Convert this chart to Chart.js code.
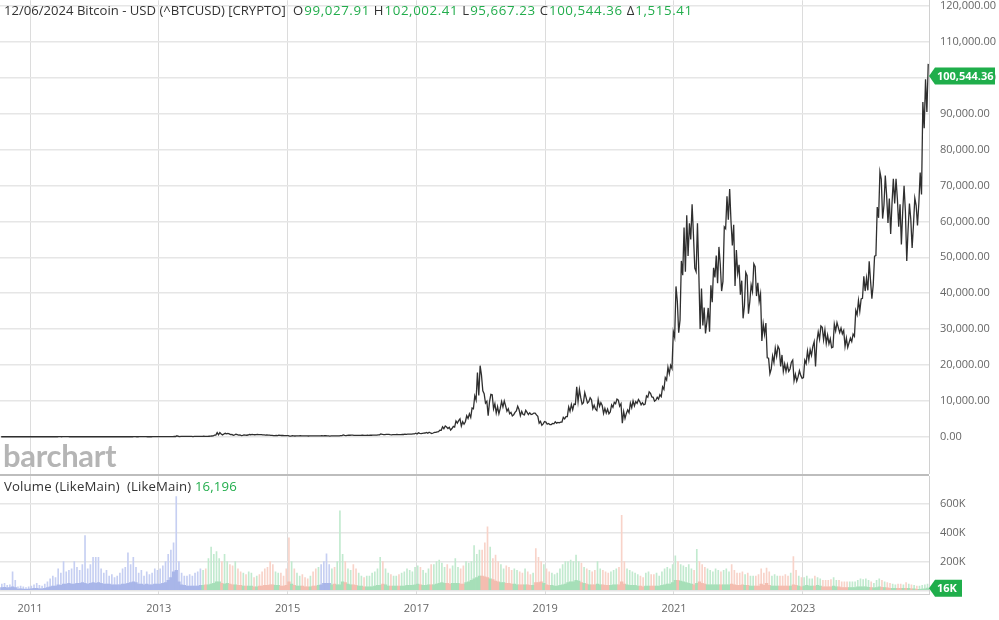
<!DOCTYPE html>
<html><head><meta charset="utf-8">
<script src="https://cdn.jsdelivr.net/npm/chart.js@4.4.1/dist/chart.umd.min.js"></script>
<style>
html,body{margin:0;padding:0;background:#fff;width:999px;height:620px;overflow:hidden;font-family:"Open Sans",sans-serif;}
#pwrap{position:absolute;left:0;top:0;width:999px;height:474px;}
#vwrap{position:absolute;left:0;top:476px;width:999px;height:144px;}
#sep{position:absolute;left:0;top:474px;width:929px;height:2px;background:#bdbdbd;}
#title{position:absolute;left:4px;top:1px;font-size:13.1px;color:#333;white-space:pre;}
#title .k{margin-left:4px;}
#title .g{margin-left:1px;font-size:13.3px;letter-spacing:0.6px;}
#vtitle{position:absolute;left:4px;top:477px;font-size:13.2px;letter-spacing:0.15px;color:#333;white-space:pre;}
.g{color:#22ad4c}
#wm{position:absolute;left:3px;top:436px;font-family:Lato,sans-serif;font-weight:700;font-size:31px;color:#b5b5b5;letter-spacing:-0.3px;}
</style></head><body>
<div id="pwrap"><canvas id="pc"></canvas></div>
<div id="sep"></div>
<div id="vwrap"><canvas id="vc"></canvas></div>
<div id="wm">barchart</div>
<div id="title"></div>
<div id="vtitle"></div>
<script>
// ---- DATA ----
const symbolText = "12/06/2024 Bitcoin - USD (^BTCUSD) [CRYPTO]";
const lastOpen = 99027.91, lastHigh = 102002.41, lastLow = 95667.23, lastClose = 100544.36, lastChange = 1515.41;
const lastVolume = 16196;
const yearTicks = [2011, 2013, 2015, 2017, 2019, 2021, 2023];
const priceTicks = [0, 10000, 20000, 30000, 40000, 50000, 60000, 70000, 80000, 90000, 100000, 110000, 120000];
const volumeTicks = [0, 200, 400, 600]; // thousands
const firstSlot = 2010.5417; // half-month slots, starting 2nd half of July 2010

// half-month low / high of BTC-USD
const priceLow = [
 0.05,0.06,0.06,0.06,0.06,0.06,0.1,0.19,0.19,0.2,0.24,
 0.3,0.4,0.9,0.8,0.8,0.75,0.68,1.1,3,6,9,10,13,13,6,7,5,4.6,4,2.2,2.6,2,2.8,3.4,
 5,5.6,5,4.3,4.8,4.7,4.7,4.8,4.9,5,5.3,6,6.6,8.3,10,7.5,10,11.8,11.8,10.5,10.8,11.3,12.6,13.2,
 13.4,15,20,25,33,47,70,63,107,119,99,94,66,86,96,106,120,120,116,168,230,445,540,520,
 770,800,600,420,550,450,340,415,430,490,560,570,615,580,505,450,440,380,300,340,320,350,340,310,
 170,200,210,230,260,240,235,215,230,230,222,240,255,270,260,200,225,225,240,260,310,310,390,420,
 410,370,375,400,410,410,415,425,440,440,535,580,620,650,530,570,600,590,600,630,690,730,750,780,
 780,880,960,1050,980,900,1050,1200,1400,1800,2250,2300,1850,2300,2700,3800,3000,3500,4200,5100,5400,7800,10200,11500,
 12800,9400,5900,9700,7800,6600,6400,7900,8300,7100,6400,5800,6100,7200,5900,6200,6100,6200,6200,6300,6100,3800,3200,3600,
 3500,3400,3400,3600,3800,3900,4100,5000,5600,7100,7500,9000,9800,9100,9500,9400,9800,7800,7700,7300,8500,6500,6600,6400,
 6900,8200,9200,8500,3800,5100,6500,6700,8100,8600,9300,8900,8900,9100,11000,11100,9900,10200,10500,11200,13200,15800,17600,19000,
 27700,29000,32500,45000,46000,50400,55000,47000,46000,30000,31000,28800,32000,29300,37500,44400,42800,40600,43300,58000,60500,53300,42000,45500,
 39600,33000,36500,34300,37600,40500,39200,37700,26700,28600,22000,17600,18900,20700,22400,19600,18200,18200,18200,18900,15600,15500,16700,16300,
 16500,20400,21400,22700,19600,26600,27200,27000,26000,25900,24800,25000,29500,29000,28700,25200,24900,26200,26500,28000,34000,35000,38600,40600,
 40800,38500,42300,50500,61000,60800,64500,59600,56500,65000,65000,58500,53600,63000,49000,57800,52600,59000,58900,65000,67500,86000,90500
];
const priceHigh = [
 0.09,0.07,0.07,0.07,0.07,0.1,0.19,0.39,0.29,0.25,0.3,
 0.4,0.95,1.1,1.0,0.95,0.9,1.2,3.5,8,9,31,20,16,14.5,13,11,8,5.8,5,4,3.5,2.8,3.5,4.4,
 7,6.7,6.1,5.1,5.4,5,5.2,5.2,5.1,5.2,6,6.7,7.8,9.4,11.8,12.5,11.8,12.5,12.5,11.9,11.2,12.5,13.7,13.5,
 14.5,20,25,31,47,93,266,143,125,134,120,109,98,98,108,122,141,133,147,218,450,1150,1150,780,
 960,950,820,660,700,620,490,535,460,630,680,620,640,625,600,510,485,440,410,380,460,400,380,330,
 315,290,240,260,295,270,255,235,245,242,240,255,300,290,280,245,245,240,270,310,495,370,470,460,
 460,410,405,440,420,420,430,465,460,535,780,700,680,680,600,590,630,610,645,710,745,755,785,975,
 1140,935,1010,1200,1280,1060,1210,1350,1850,2780,2980,2700,2650,2900,4400,4500,4980,4200,5850,6400,8000,11400,17900,19800,
 17200,12000,9900,11800,11700,9200,8400,9800,10000,8600,7800,6800,6800,8500,7600,7100,7400,6800,6700,6600,6600,5700,4300,4250,
 4100,3700,3700,4200,4000,4100,5400,5600,8300,9000,9100,13900,13200,10900,12300,10900,10900,10300,8800,10400,9500,8700,7900,7700,
 8900,9600,10500,10200,9200,7000,7500,9400,10000,9800,10400,9800,9500,11400,12500,12100,11000,11000,11700,13900,16500,19400,19900,29300,
 41900,37700,49000,58300,61700,59500,64800,56300,59500,45800,41300,36000,35900,42200,47100,50500,52900,48000,58500,67000,69000,60000,59100,52000,
 47900,43500,45800,44900,42300,48200,47400,42900,39800,31500,31700,21900,22500,24700,25200,24400,22800,20300,20100,20800,21400,17400,18400,17100,
 21300,23900,24300,25200,26500,29200,30900,30500,29800,28300,27300,31400,31800,30400,30300,29600,27500,27500,28600,35200,38000,38400,44700,44200,
 48900,43500,50300,64000,73800,71800,72800,67200,66400,71900,71900,66400,64800,69900,62700,65000,60600,66500,64500,73600,93300,99600,103900
];
// half-month volume (thousands): typical level and largest spike
const volumeBase = [
 20,22,18,20,25,20,10,12,10,8,10,
 12,15,15,12,12,15,20,25,30,30,40,35,45,45,50,45,45,50,50,55,50,45,50,55,
 50,55,50,45,45,45,40,40,40,40,45,45,50,55,60,55,45,45,40,45,40,40,45,45,
 45,50,55,70,90,130,140,60,40,35,30,30,30,30,30,35,35,40,40,45,50,60,60,50,
 45,50,45,40,40,35,35,30,30,30,30,25,25,30,30,35,35,40,40,35,35,30,30,35,
 60,45,35,30,30,30,25,25,25,30,30,35,40,50,50,50,40,45,40,40,60,55,45,40,
 40,35,30,30,25,25,25,25,30,35,35,45,40,30,30,30,30,30,30,30,35,35,35,40,
 45,40,35,35,40,40,40,45,50,55,50,50,45,50,50,50,45,45,55,60,70,80,90,100,
 100,95,90,80,75,65,60,55,55,50,50,45,45,40,40,40,40,40,35,35,55,55,60,50,
 40,35,35,30,30,35,40,45,55,60,60,70,65,55,50,45,40,40,40,45,40,40,35,35,
 35,40,40,40,60,45,40,35,35,35,30,30,25,30,30,30,30,30,30,35,40,45,45,55,
 70,70,65,60,55,50,45,40,50,60,50,45,40,40,40,40,40,40,40,40,40,45,40,35,
 35,40,35,35,30,30,30,30,45,35,50,35,30,30,30,30,30,30,30,30,40,35,30,25,
 30,35,30,30,30,35,30,25,25,25,25,30,25,25,20,20,20,20,20,20,25,25,25,25,
 22,20,18,20,25,22,20,18,15,15,15,15,15,15,15,15,12,12,8,8,10,12,16
];
const volumePeak = [
 45,50,35,40,130,70,25,30,25,20,25,
 30,40,50,35,30,45,60,80,100,90,150,120,200,130,140,150,200,160,140,180,380,150,180,230,
 230,230,150,120,140,100,110,90,100,120,150,160,260,180,230,160,120,140,100,130,110,120,150,140,
 150,170,200,250,280,330,650,200,120,100,100,110,100,120,130,150,140,150,220,300,250,270,220,200,
 250,200,180,170,200,150,130,120,110,130,120,90,100,110,130,150,160,200,180,130,120,120,100,150,
 365,200,150,120,100,110,90,80,100,130,150,160,180,200,254,180,150,160,200,550,250,200,150,140,
 180,150,120,100,90,100,100,120,130,150,230,200,150,120,110,100,100,110,120,130,150,140,130,160,
 170,160,140,120,150,180,180,200,210,190,160,180,150,170,220,160,150,170,200,190,200,310,250,280,
 280,330,440,300,220,245,200,180,150,170,160,140,150,140,130,120,150,130,110,120,290,230,200,180,
 150,130,120,110,120,150,180,200,200,210,200,245,200,190,160,150,140,130,140,200,150,140,130,120,
 130,140,150,160,520,200,150,140,130,120,110,100,90,120,130,110,110,120,100,130,150,160,150,180,
 240,200,180,170,160,180,150,140,285,200,180,160,150,140,130,150,140,130,140,150,130,180,140,120,
 120,130,110,120,100,100,100,110,150,120,155,130,100,110,100,100,100,110,100,120,235,140,100,90,
 90,100,80,80,100,90,80,70,70,70,75,90,70,70,60,60,60,60,60,60,70,80,75,80,
 70,60,50,70,80,70,60,55,50,45,40,45,45,40,55,45,40,35,30,30,35,40,45
];
// spans whose volume is shown in blue (no up/down information)
const blueSpans = [[2010.5, 2013.67], [2015.50, 2015.66]];

// ---- BUILD ----
const fmt2 = v => v.toLocaleString('en-US', {minimumFractionDigits: 2, maximumFractionDigits: 2});
const item = (k, v) => '<span class="k">' + k + '</span><span class="g">' + fmt2(v) + '</span>';
document.getElementById('title').innerHTML = symbolText + ' ' +
  item('O', lastOpen) + item('H', lastHigh) + item('L', lastLow) + item('C', lastClose) + item('\u0394', lastChange);
document.getElementById('vtitle').innerHTML = 'Volume (LikeMain)  (LikeMain) <span class="g">' + lastVolume.toLocaleString('en-US') + '</span>';

const XMIN = 2010.534, XMAX = 2024.96;
const slotT = priceLow.map((_, i) => firstSlot + (i + 0.5) / 24);
const mid = i => (priceLow[i] + priceHigh[i]) / 2;
const rising = slotT.map((t, i) => i === 0 || mid(i) >= mid(i - 1));
const kind = slotT.map((t, i) => blueSpans.some(([a, b]) => t >= a && t < b) ? 'b' : (rising[i] ? 'g' : 'r'));
const baseCol = {b: '#a9b6e9', g: '#a6dfb8', r: '#f4bdb0'};
const peakCol = {b: '#c6cff2', g: '#c2eacf', r: '#f8d3c9'};

// price trace: within each half-month slot visit the two extremes in the direction of travel
const pricePath = [];
slotT.forEach((t, i) => {
  const a = rising[i] ? priceLow[i] : priceHigh[i];
  const b = rising[i] ? priceHigh[i] : priceLow[i];
  pricePath.push({x: t - 1 / 96, y: a}, {x: t + 1 / 96, y: b});
});

Chart.defaults.font.family = "'Open Sans', sans-serif";
Chart.defaults.font.size = 11;
Chart.defaults.color = '#666';

function tagPlugin(getVal, text, w) {
  return {id: 'tag', afterDraw(chart) {
    const {ctx, chartArea: a} = chart;
    const py = chart.scales.y.getPixelForValue(getVal);
    ctx.save();
    ctx.fillStyle = '#1fae4b';
    ctx.beginPath();
    ctx.moveTo(a.right, py);
    ctx.lineTo(a.right + 6, py - 8.5);
    ctx.lineTo(a.right + w, py - 8.5);
    ctx.lineTo(a.right + w, py + 8.5);
    ctx.lineTo(a.right + 6, py + 8.5);
    ctx.closePath();
    ctx.fill();
    ctx.fillStyle = '#fff';
    ctx.font = "bold 11px 'Open Sans'";
    ctx.textBaseline = 'middle';
    ctx.fillText(text, a.right + 8, py + 0.5);
    ctx.restore();
  }};
}

const xGrid = {color: '#dcdcdc', lineWidth: 1, drawTicks: false, offset: false};
const setYears = s => { s.ticks = yearTicks.map(v => ({value: v})); };
// right-hand value axis: labels pushed out by an invisible tick, tiny line height so no extra top/bottom padding
const yTickStyle = {padding: 0, font: {size: 11, lineHeight: 0.05}};
const yGrid = {color: '#e6e6e6', lineWidth: 1.5, drawTicks: true, tickLength: 11, tickColor: 'rgba(0,0,0,0)'};

new Chart(document.getElementById('pc'), {
  type: 'line',
  data: {datasets: [{
    data: pricePath,
    borderColor: '#2f2f2f', borderWidth: 1.3, pointRadius: 0, tension: 0, fill: false
  }]},
  options: {
    responsive: true, maintainAspectRatio: false, animation: false,
    layout: {padding: 0},
    plugins: {legend: {display: false}, tooltip: {enabled: false}},
    scales: {
      x: {type: 'linear', offset: false, min: XMIN, max: XMAX, afterBuildTicks: setYears,
          ticks: {display: false}, grid: xGrid, border: {display: false},
          afterFit: s => { s.height = 0; }},
      y: {type: 'linear', position: 'right', min: -10298, max: 121625,
          afterBuildTicks: s => { s.ticks = priceTicks.map(v => ({value: v})); },
          ticks: Object.assign({callback: v => fmt2(v)}, yTickStyle),
          grid: yGrid,
          border: {display: true, color: '#d0d0d0'},
          afterFit: s => { s.width = 70; }}
    }
  },
  plugins: [tagPlugin(lastClose, fmt2(lastClose), 66)]
});

new Chart(document.getElementById('vc'), {
  type: 'bar',
  data: {datasets: [
    {data: slotT.map((t, i) => ({x: t, y: volumeBase[i]})), backgroundColor: kind.map(k => baseCol[k]),
     barThickness: 2.7, grouped: false, order: 1},
    {data: slotT.map((t, i) => ({x: t, y: volumePeak[i]})), backgroundColor: kind.map(k => peakCol[k]),
     barThickness: 1, grouped: false, order: 2}
  ]},
  options: {
    responsive: true, maintainAspectRatio: false, animation: false,
    layout: {padding: 0},
    plugins: {legend: {display: false}, tooltip: {enabled: false}},
    scales: {
      x: {type: 'linear', offset: false, min: XMIN, max: XMAX, afterBuildTicks: setYears,
          ticks: {padding: 8, maxRotation: 0, autoSkip: false, callback: v => String(v)},
          grid: xGrid, border: {display: true, color: '#cfcfcf', width: 1},
          afterFit: s => { s.height = 26; }},
      y: {type: 'linear', position: 'right', min: -24.1, max: 789.7,
          afterBuildTicks: s => { s.ticks = volumeTicks.map(v => ({value: v})); },
          ticks: Object.assign({callback: v => v === 0 ? '' : v + 'K'}, yTickStyle),
          grid: yGrid,
          border: {display: true, color: '#d0d0d0'},
          afterFit: s => { s.width = 70; }}
    }
  },
  plugins: [tagPlugin(lastVolume / 1000, Math.round(lastVolume / 1000) + 'K', 33)]
});
</script>
</body></html>
